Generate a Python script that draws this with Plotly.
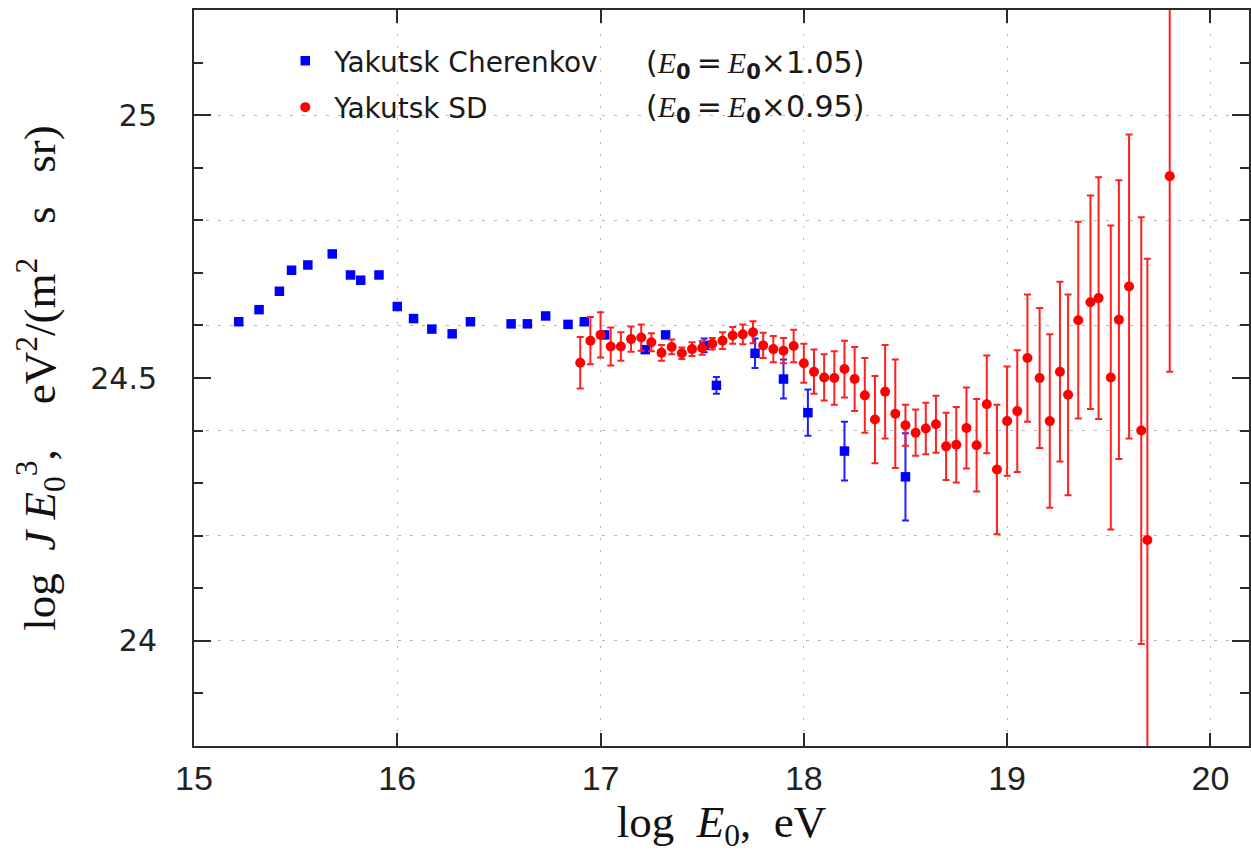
import plotly.graph_objects as go

# Yakutsk Cherenkov array: log E0 (eV), log J*E0^3, symmetric errors
cher_logE = [15.22, 15.32, 15.42, 15.48, 15.56, 15.68, 15.77, 15.82, 15.91, 16.00,
             16.08, 16.17, 16.27, 16.36, 16.56, 16.64, 16.73, 16.84, 16.92, 17.02,
             17.22, 17.32, 17.51, 17.57, 17.76, 17.90, 18.02, 18.20, 18.50]
cher_flux = [24.607, 24.630, 24.665, 24.705, 24.715, 24.736, 24.696, 24.686, 24.696, 24.636,
             24.613, 24.593, 24.584, 24.607, 24.603, 24.603, 24.618, 24.602, 24.607, 24.582,
             24.554, 24.582, 24.562, 24.486, 24.547, 24.498, 24.434, 24.361, 24.312]
cher_err = [0, 0, 0, 0, 0, 0, 0, 0, 0, 0,
            0, 0, 0, 0, 0, 0, 0, 0, 0, 0,
            0, 0, 0.013, 0.016, 0.028, 0.037, 0.044, 0.056, 0.083]

# Yakutsk surface detector array: log E0 (eV), log J*E0^3, upper / lower errors
sd_logE = [16.90, 16.95, 17.00, 17.05, 17.10, 17.15, 17.20, 17.25, 17.30, 17.35,
           17.40, 17.45, 17.50, 17.55, 17.60, 17.65, 17.70, 17.75, 17.80, 17.85,
           17.90, 17.95, 18.00, 18.05, 18.10, 18.15, 18.20, 18.25, 18.30, 18.35,
           18.40, 18.45, 18.50, 18.55, 18.60, 18.65, 18.70, 18.75, 18.80, 18.85,
           18.90, 18.95, 19.00, 19.05, 19.10, 19.16, 19.21, 19.26, 19.30, 19.35,
           19.41, 19.45, 19.51, 19.55, 19.60, 19.66, 19.69, 19.80]
sd_flux = [24.529, 24.571, 24.582, 24.560, 24.560, 24.574, 24.577, 24.568, 24.548, 24.559,
           24.547, 24.555, 24.557, 24.565, 24.571, 24.581, 24.583, 24.587, 24.562, 24.555,
           24.552, 24.561, 24.528, 24.512, 24.501, 24.500, 24.517, 24.498, 24.467, 24.421,
           24.474, 24.432, 24.410, 24.396, 24.404, 24.412, 24.370, 24.373, 24.405, 24.372,
           24.450, 24.326, 24.418, 24.437, 24.538, 24.500, 24.418, 24.512, 24.468, 24.610,
           24.644, 24.652, 24.501, 24.611, 24.674, 24.400, 24.192, 24.884]
sd_err_up = [0.049, 0.045, 0.043, 0.036, 0.027, 0.024, 0.025, 0.017, 0.015, 0.014,
             0.011, 0.013, 0.013, 0.011, 0.016, 0.016, 0.019, 0.021, 0.024, 0.025,
             0.024, 0.031, 0.037, 0.042, 0.044, 0.051, 0.054, 0.061, 0.071, 0.083,
             0.089, 0.103, 0.039, 0.044, 0.049, 0.054, 0.064, 0.072, 0.077, 0.088,
             0.093, 0.123, 0.104, 0.116, 0.121, 0.133, 0.165, 0.171, 0.191, 0.187,
             0.203, 0.230, 0.289, 0.265, 0.289, 0.406, 0.535, 0.400]
sd_err_dn = sd_err_up[:-2] + [0.600, 0.372]

x_ticks = [15, 16, 17, 18, 19, 20]
y_ticks = [24, 24.5, 25]
y_tick_text = ["24", "24.5", "25"]

FRAME = "#2b2b2b"
GRID = "#b4b4b4"
NB = "\u00a0"

fig = go.Figure()

fig.add_trace(go.Scatter(
    x=cher_logE, y=cher_flux, mode="markers",
    name=NB + "Yakutsk Cherenkov",
    legendgroup="c",
    marker=dict(symbol="square", size=9.5, color="#0000ff"),
    error_y=dict(type="data", array=cher_err, color="#1f1fff", thickness=2, width=3.5),
))
fig.add_trace(go.Scatter(
    x=sd_logE, y=sd_flux, mode="markers",
    name=NB + "Yakutsk SD",
    legendgroup="s",
    marker=dict(symbol="circle", size=10, color="#ff0000"),
    error_y=dict(type="data", symmetric=False, array=sd_err_up, arrayminus=sd_err_dn,
                 color="#ff2020", thickness=2, width=3.5),
))
# empty trace carrying the secondary y axis used for the 0.2 grid
fig.add_trace(go.Scatter(x=[], y=[], yaxis="y2", showlegend=False, hoverinfo="skip"))

fig.update_layout(
    width=1251, height=860,
    margin=dict(l=194, r=0, t=10, b=114),
    paper_bgcolor="white", plot_bgcolor="white",
    showlegend=True,
    legend=dict(
        x=0.0865, y=0.9646, xanchor="left", yanchor="top",
        bgcolor="rgba(0,0,0,0)",
        font=dict(family="DejaVu Sans", size=28, color="#1a1a1a"),
        tracegroupgap=7,
        itemsizing="trace",
    ),
    xaxis=dict(
        range=[15, 20.19], tickvals=x_ticks, ticktext=[str(v) for v in x_ticks],
        ticks="inside", ticklen=13, tickwidth=1.5, tickcolor=FRAME,
        showline=True, linecolor=FRAME, linewidth=2, mirror="ticks",
        showgrid=True, gridcolor=GRID, gridwidth=1.3, griddash="2px,10px",
        zeroline=False,
        tickfont=dict(family="Liberation Sans", size=34, color="#222"),
        ticklabelstandoff=1,
        title=dict(
            text="log" + NB * 2 + "<i>E</i><sub>0</sub>," + NB * 2 + "eV",
            font=dict(family="Liberation Serif", size=45, color="#111"),
            standoff=8,
        ),
    ),
    yaxis=dict(
        range=[23.8, 25.2], tickvals=y_ticks, ticktext=y_tick_text,
        ticks="inside", ticklen=17, tickwidth=1.5, tickcolor=FRAME,
        minor=dict(dtick=0.1, tick0=24, ticks="inside", ticklen=9, tickwidth=1.5,
                   tickcolor=FRAME, showgrid=False),
        showline=True, linecolor=FRAME, linewidth=2, mirror="ticks",
        showgrid=False, zeroline=False,
        tickfont=dict(family="DejaVu Sans", size=30, color="#222"),
        ticklabelstandoff=29,
        title=dict(
            text=("log" + NB * 2 + "<i>J</i>" + NB + "<i>E</i><sub>0</sub><sup>3</sup>," + NB * 4 +
                  "eV<sup>2</sup>/(m<sup>2</sup>" + NB * 3 + "s" + NB * 3 + "sr)"),
            font=dict(family="Liberation Serif", size=45, color="#111"),
            standoff=20,
        ),
    ),
    yaxis2=dict(
        range=[23.8, 25.2], overlaying="y", anchor="x", side="left",
        tick0=24, dtick=0.2, showticklabels=False, ticks="",
        showgrid=True, gridcolor=GRID, gridwidth=1.3, griddash="3px,9px",
        zeroline=False, showline=False,
    ),
)

paren_font = dict(family="DejaVu Sans", size=30, color="#1a1a1a")
serif_e = "<span style='font-family:Liberation Serif'><i>E</i></span><sub><b>0</b></sub>"
fig.add_annotation(
    xref="paper", yref="paper", x=0.4267, y=0.9266, xanchor="left", yanchor="middle",
    text="(" + serif_e + "\u2009=\u2009" + serif_e + "×1.05)",
    showarrow=False, font=paren_font,
)
fig.add_annotation(
    xref="paper", yref="paper", x=0.4267, y=0.8655, xanchor="left", yanchor="middle",
    text="(" + serif_e + "\u2009=\u2009" + serif_e + "×0.95)",
    showarrow=False, font=paren_font,
)

fig.write_html("out.html")
